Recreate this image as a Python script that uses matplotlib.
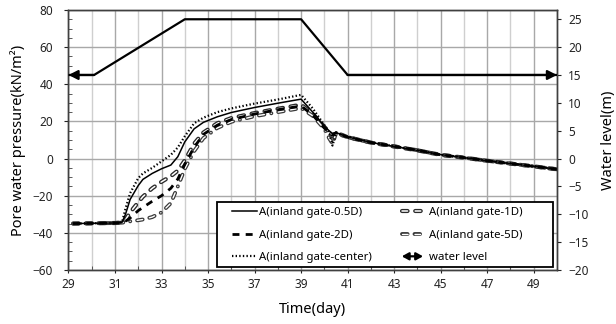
import matplotlib
matplotlib.use("Agg")
import matplotlib.pyplot as plt
from matplotlib.ticker import MultipleLocator
from matplotlib.legend_handler import HandlerBase
from matplotlib.patches import FancyArrowPatch, Rectangle
from matplotlib.lines import Line2D

plt.rcParams['font.family'] = ['Noto Sans', 'DejaVu Sans']
plt.rcParams['lines.scale_dashes'] = False

# ---- data ----
T = [29.2, 31.0, 31.3, 31.45, 31.65, 32.0, 32.2, 32.6, 33.0, 33.4, 33.7, 34.0, 34.4,
     34.8, 35.4, 36.0, 37.0, 38.0, 39.0, 39.5, 40.0, 40.2, 40.35, 40.5, 41.0,
     42, 43, 44, 45, 46, 47, 48, 49, 50]

P_05D = [-35, -34.7, -34.4, -30, -22, -14.5, -11.2, -8, -5.5, -3.5, 1, 9, 16,
         19.5, 22.5, 24.8, 27.5, 29.8, 32, 25, 17.5, 15, 13.5, 14, 11.6,
         8.7, 6.5, 4.4, 2.1, 0.5, -1.2, -2.7, -4.2, -5.7]
P_1D = [-35, -34.7, -34.4, -33, -29, -23.5, -20.5, -16, -12.5, -9.5, -6.5, -1, 8,
        14, 19, 21.8, 24.5, 26.8, 29, 24, 17, 14.5, 12, 14, 11.5,
        8.6, 6.5, 4.4, 2.0, 0.5, -1.2, -2.7, -4.2, -5.8]
P_2D = [-35, -34.7, -34.5, -33.8, -32, -28, -26.3, -23, -20, -16, -11, -3, 6,
        13, 18, 21, 24, 26.3, 28.3, 23.5, 16.5, 14, 12.5, 14, 11.5,
        8.6, 6.6, 4.5, 2.0, 0.5, -1.2, -2.7, -4.2, -5.8]
P_5D = [-35, -34.7, -34.5, -34.3, -33.8, -33.2, -32.8, -31.5, -29, -24, -15, -5.5, 4,
        11, 16.5, 19.8, 22.8, 25, 27.2, 23, 16, 11, 8, 13.5, 11.5,
        8.6, 6.6, 4.5, 2.0, 0.5, -1.2, -2.7, -4.2, -5.8]
P_center = [-35, -34.7, -34.4, -27, -18.6, -10.5, -8, -5, -1.5, 2, 6, 12, 19,
            22, 25, 27, 29.6, 31.8, 34.3, 27, 18, 14, 7, 14, 11.8,
            8.8, 6.6, 4.5, 2.1, 0.6, -1.1, -2.6, -4.1, -5.6]

WL_T = [29, 30.1, 34, 39, 41, 50]
WL = [15, 15, 25, 25, 15, 15]

X_TICKS = [29, 31, 33, 35, 37, 39, 41, 43, 45, 47, 49]
LABELS = ["A(inland gate-0.5D)", "A(inland gate-1D)", "A(inland gate-2D)",
          "A(inland gate-5D)", "A(inland gate-center)", "water level"]

# ---- figure ----
fig = plt.figure(figsize=(6.16, 3.24), dpi=100)
ax = fig.add_axes([0.1112, 0.1667, 0.7930, 0.8025])
ax2 = ax.twinx()

ax.set_xlim(29, 50)
ax.set_ylim(-60, 80)
ax2.set_ylim(-20, 80 * 20 / 60)

ax.set_xticks(X_TICKS)
ax.xaxis.set_minor_locator(MultipleLocator(1))
ax.yaxis.set_major_locator(MultipleLocator(20))
ax.yaxis.set_minor_locator(MultipleLocator(5))
ax2.yaxis.set_major_locator(MultipleLocator(5))

ax.grid(True, which='major', axis='both', color='#a8a8a8', lw=1.0)
ax.grid(True, which='minor', axis='x', color='#cfcfcf', lw=1.0)
ax.set_axisbelow(True)

for a in (ax, ax2):
    for s in a.spines.values():
        s.set_color('#404040')
        s.set_linewidth(1.0)

ax.tick_params(axis='y', which='major', direction='out', length=3, pad=8, labelsize=8.5, colors='#222222')
ax.tick_params(axis='y', which='minor', direction='in', length=3, color='#404040')
ax.tick_params(axis='x', which='major', direction='out', length=2, pad=4, labelsize=8.5, colors='#222222')
ax.tick_params(axis='x', which='minor', direction='in', length=3, color='#404040')
ax2.tick_params(axis='y', which='major', direction='out', length=3, pad=5, labelsize=8.5, colors='#222222')

# pore water pressure lines
l05, = ax.plot(T, P_05D, color='black', lw=1.1, zorder=5)

d1 = (4.0, 5.5)
o1, = ax.plot(T, P_1D, color='#2a2a2a', lw=3.0, dashes=d1, dash_capstyle='round', zorder=4)
i1, = ax.plot(T, P_1D, color='white', lw=1.1, dashes=d1, dash_capstyle='round', zorder=4)

l2, = ax.plot(T, P_2D, color='black', lw=2.0, dashes=(5.0, 4.5), zorder=5)

d5 = (4.0, 5.0, 4.0, 5.0, 0.1, 5.0)
o5, = ax.plot(T, P_5D, color='#3a3a3a', lw=2.8, dashes=d5, dash_capstyle='round', zorder=4)
i5, = ax.plot(T, P_5D, color='white', lw=1.0, dashes=d5, dash_capstyle='round', zorder=4)

lc, = ax.plot(T, P_center, color='black', lw=1.6, linestyle=(0, (1, 1.6)), zorder=5)

# water level
ax2.plot(WL_T, WL, color='black', lw=1.6, solid_capstyle='butt', zorder=6)
arrowkw = dict(arrowstyle='-|>,head_length=0.55,head_width=0.28', color='black', lw=1.6,
               shrinkA=0, shrinkB=0)
ax2.annotate('', xy=(WL_T[0], WL[0]), xytext=(WL_T[1], WL[1]), arrowprops=arrowkw)
ax2.annotate('', xy=(WL_T[-1], WL[-1]), xytext=(WL_T[-2], WL[-2]), arrowprops=arrowkw)

ax.set_xlabel('Time(day)', fontsize=10.5, labelpad=8)
ax.set_ylabel('Pore water pressure(kN/m²)', fontsize=10.5, labelpad=5)
ax2.set_ylabel('Water level(m)', fontsize=10.5, labelpad=9)


class ArrowHandler(HandlerBase):
    def create_artists(self, legend, orig_handle, xdescent, ydescent, width, height, fontsize, trans):
        y = height / 2 - ydescent
        p = FancyArrowPatch((-xdescent, y), (-xdescent + width * 0.85, y),
                            arrowstyle='<|-|>,head_length=4,head_width=2.2',
                            color='black', lw=1.6, shrinkA=0, shrinkB=0,
                            mutation_scale=1, transform=trans)
        return [p]


# legend frame (fixed size box as in the original)
box = Rectangle((0.304, 0.0115), 0.688, 0.2515, transform=ax2.transAxes,
                facecolor='white', edgecolor='black', lw=1.3, zorder=19)
ax2.add_patch(box)

wl_handle = Line2D([], [], color='black')
handles = [l05, (o1, i1), l2, (o5, i5), lc, wl_handle]
order = [0, 2, 4, 1, 3, 5]
leg = ax2.legend([handles[i] for i in order], [LABELS[i] for i in order],
                 ncol=2, loc='upper left', bbox_to_anchor=(0.3346, 0.242),
                 frameon=False, fontsize=8.2,
                 handlelength=2.2, handletextpad=0.2, columnspacing=2.6,
                 labelspacing=1.02, borderaxespad=0.0, borderpad=0.0,
                 handler_map={wl_handle: ArrowHandler()})
leg.set_zorder(20)

fig.savefig('out.png', dpi=100)
